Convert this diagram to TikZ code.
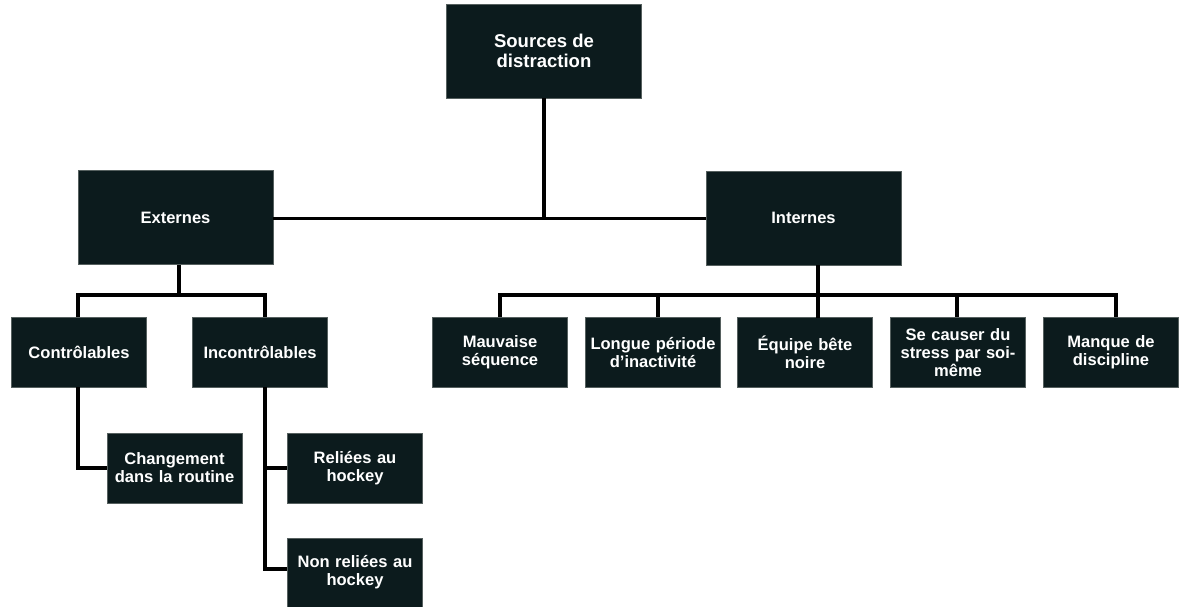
\documentclass[tikz,border=0pt]{standalone}
\usepackage{fontspec}
\setmainfont{Liberation Sans}
\definecolor{boxfill}{HTML}{0C1B1D}
\definecolor{boxedge}{HTML}{56605F}
\begin{document}
\begin{tikzpicture}[x=0.75pt,y=-0.75pt,
  box/.style={rectangle, fill=boxfill, draw=boxedge, line width=0.4pt, text=white,
    font=\bfseries\fontsize{12.4}{13.4}\selectfont, align=center, inner sep=1pt},
  big/.style={box, minimum width=195*0.75pt, minimum height=94*0.75pt},
  small/.style={box, minimum width=134*0.75pt, minimum height=70*0.75pt, text width=132*0.75pt},
  link/.style={draw=black, line width=2.3pt}]
\useasboundingbox (0,0) rectangle (1183,607);
\node[big, font=\bfseries\fontsize{13.9}{15}\selectfont] (src) at (544,51) {Sources de\\distraction};
\node[big] (ext) at (175.5,217.5) {Externes};
\node[big] (int) at (803.5,218) {Internes};
\node[small] (ctrl) at (79,352) {Contrôlables};
\node[small] (inctrl) at (260,352) {Incontrôlables};
\node[small] (chg) at (174.5,468) {Changement\\dans la routine};
\node[small] (rel) at (355,468) {Reliées au\\hockey};
\node[small, minimum height=69*0.75pt] (nrel) at (355,572.5) {Non reliées au\\hockey};
\node[small] (mauv) at (500,352.5) {Mauvaise\\séquence};
\node[small] (long) at (653,352.5) {Longue période\\d’inactivité};
\node[small] (equ) at (805,352.5) {Équipe bête\\noire};
\node[small] (se) at (958,352.5) {Se causer du\\stress par soi-\\même};
\node[small] (man) at (1111,352.5) {Manque de\\discipline};
% coordinates
\coordinate (srcB) at (544,98);
\coordinate (midA) at (544,218.5);
\coordinate (extB) at (179,265);
\coordinate (extJ) at (179,295);
\coordinate (extL) at (78,295);
\coordinate (extR) at (265,295);
\coordinate (ctrlT) at (78,317);
\coordinate (inctrlT) at (265,317);
\coordinate (ctrlB) at (78,387);
\coordinate (ctrlK) at (78,468);
\coordinate (inctrlB) at (265,387);
\coordinate (inK1) at (265,468);
\coordinate (inK2) at (265,569);
\coordinate (intB) at (818,265);
\coordinate (intT) at (818,318);
\coordinate (intL) at (500,295);
\coordinate (intR) at (1116,295);
\coordinate (longJ) at (658,295);
\coordinate (seJ) at (957,295);
% connectors
\draw[link] (srcB) -- (midA);
\draw[link] (ext.east |- midA) -- (int.west |- midA);
\draw[link] (extB) -- (extJ);
\draw[link] (ctrlT) -- (extL) -- (extR) -- (inctrlT);
\draw[link] (ctrlB) -- (ctrlK) -- (chg.west |- ctrlK);
\draw[link] (inctrlB) -- (inK2) -- (nrel.west |- inK2);
\draw[link] (inK1) -- (rel.west |- inK1);
\draw[link] (intB) -- (intT);
\draw[link] (mauv.north -| intL) -- (intL) -- (intR) -- (man.north -| intR);
\draw[link] (longJ) -- (long.north -| longJ);
\draw[link] (seJ) -- (se.north -| seJ);
\end{tikzpicture}
\end{document}
